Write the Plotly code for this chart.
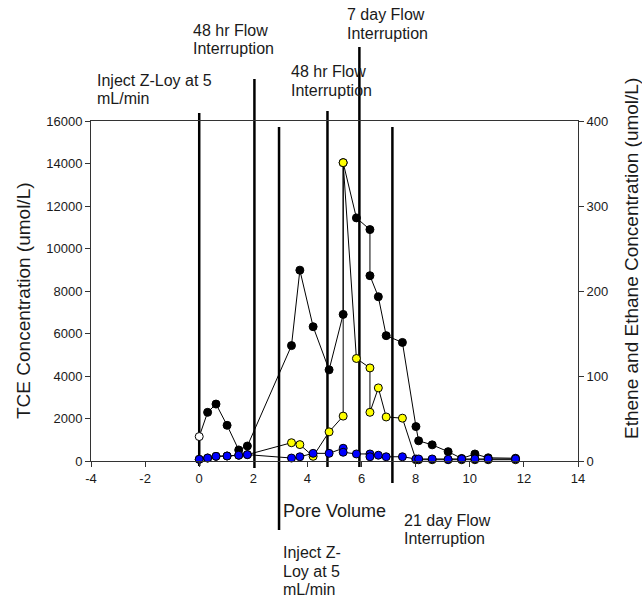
import plotly.graph_objects as go

# ---------------- data ----------------
# Pore volume sampling points (shared by all three series)
pore_volume = [0, 0.31, 0.62, 1.03, 1.46, 1.78, 3.41, 3.72, 4.21, 4.80, 5.32, 5.32, 5.81,
               6.31, 6.31, 6.62, 6.91, 7.51, 8.01, 8.11, 8.61, 9.20, 9.70, 10.19, 10.68, 11.69]

# TCE concentration (umol/L) - left axis
tce = [1150, 2290, 2680, 1680, 520, 705, 5430, 8980, 6320, 4290, 6900, 14040, 11440,
       10890, 8720, 7730, 5900, 5580, 1620, 950, 760, 440, 120, 330, 150, 130]

# Ethene concentration (umol/L) - right axis
ethene = [2, 3.5, 5.5, 5.9, 6.8, 7.5, 21.5, 19.3, 5.5, 34.3, 52.8, 351, 120.6,
          109.5, 57.3, 86, 51.8, 50.4, 1.5, 1.5, 1.5, 1.5, 1.5, 1.5, 1.5, 1.5]

# Ethane concentration (umol/L) - right axis
ethane = [2, 3.5, 5.5, 5.9, 6.8, 7.5, 3.5, 5, 9, 9, 15, 10.3, 8.3,
          8.3, 5, 6.8, 5, 5, 2.4, 2.4, 2.4, 2, 2.4, 2.4, 2.4, 2.4]

# Event marker lines (pore volume where each event occurred)
event_pv = [0, 2.04, 2.95, 4.74, 5.92, 7.14]

x_ticks = [-4, -2, 0, 2, 4, 6, 8, 10, 12, 14]
x_tick_labels = ["-4", "-2", "0", "2", "4", "6", "8", "10", "12", "14"]
y_left_ticks = [0, 2000, 4000, 6000, 8000, 10000, 12000, 14000, 16000]
y_left_labels = ["0", "2000", "4000", "6000", "8000", "10000", "12000", "14000", "16000"]
y_right_ticks = [0, 100, 200, 300, 400]
y_right_labels = ["0", "100", "200", "300", "400"]

# ---------------- layout constants ----------------
W, H = 642, 602
ML, MR, MT, MB = 91, 64, 121, 141
PW = W - ML - MR
PH = H - MT - MB


def px(xp):
    return (xp - ML) / PW


def py(yp):
    return (H - MB - yp) / PH


FONT = "Arial, Liberation Sans, sans-serif"
TXT = "#1a1a1a"

# extents of event lines (pixel rows, top / bottom)
event_top = [113, 79, 127, 111, 47, 127]
event_bot = [466, 468, 530, 467, 467, 483]

fig = go.Figure()

tce_fill = ["white"] + ["black"] * (len(tce) - 1)

fig.add_trace(go.Scatter(
    x=pore_volume, y=tce, mode="lines+markers", yaxis="y",
    line=dict(color="black", width=1),
    marker=dict(size=8, color=tce_fill, line=dict(color="black", width=1)),
    cliponaxis=False, name="TCE"))

fig.add_trace(go.Scatter(
    x=pore_volume, y=ethene, mode="lines+markers", yaxis="y2",
    line=dict(color="black", width=1),
    marker=dict(size=8, color="#FFFF00", line=dict(color="black", width=1)),
    cliponaxis=False, name="Ethene"))

fig.add_trace(go.Scatter(
    x=pore_volume, y=ethane, mode="lines+markers", yaxis="y2",
    line=dict(color="black", width=1),
    marker=dict(size=8, color="#0000FF", line=dict(color="black", width=1)),
    cliponaxis=False, name="Ethane"))

shapes = []
for pv, t, b in zip(event_pv, event_top, event_bot):
    shapes.append(dict(type="line", xref="x", yref="paper", x0=pv, x1=pv,
                       y0=py(b), y1=py(t), line=dict(color="black", width=2.5),
                       layer="below"))

annots = []


def add_text(txt, xl, yc, size=16):
    annots.append(dict(text=txt, xref="paper", yref="paper", x=px(xl), y=py(yc),
                       xanchor="left", yanchor="middle", showarrow=False,
                       font=dict(family=FONT, size=size, color=TXT)))


add_text("Inject Z-Loy at 5", 95, 80)
add_text("mL/min", 95, 98)
add_text("48 hr Flow", 191, 30)
add_text("Interruption", 191, 48)
add_text("48 hr Flow", 289, 71)
add_text("Interruption", 289, 90)
add_text("7 day Flow", 345, 14)
add_text("Interruption", 345, 33)
add_text("Pore Volume", 281, 511, size=18)
add_text("21 day Flow", 402, 520)
add_text("Interruption", 402, 538)
add_text("Inject Z-", 281, 552)
add_text("Loy at 5", 281, 571)
add_text("mL/min", 281, 589)

annots.append(dict(text="TCE Concentration (umol/L)", xref="paper", yref="paper",
                   x=px(23), y=py(301), xanchor="center", yanchor="middle",
                   textangle=-90, showarrow=False,
                   font=dict(family=FONT, size=19, color=TXT)))
annots.append(dict(text="Ethene and Ethane Concentration (umol/L)", xref="paper", yref="paper",
                   x=px(631), y=py(259), xanchor="center", yanchor="middle",
                   textangle=-90, showarrow=False,
                   font=dict(family=FONT, size=19, color=TXT)))

axis_common = dict(showgrid=False, zeroline=False, showline=True, linecolor="#333",
                   linewidth=1, ticks="outside", ticklen=5, tickcolor="#333",
                   tickfont=dict(family=FONT, size=13, color=TXT))

fig.update_layout(
    width=W, height=H,
    margin=dict(l=ML, r=MR, t=MT, b=MB),
    paper_bgcolor="white", plot_bgcolor="white",
    showlegend=False,
    xaxis=dict(range=[-4, 14], tickmode="array", tickvals=x_ticks, ticktext=x_tick_labels,
               mirror=True, **axis_common),
    yaxis=dict(range=[0, 16000], tickmode="array", tickvals=y_left_ticks,
               ticktext=y_left_labels, **axis_common),
    yaxis2=dict(range=[0, 400], tickmode="array", tickvals=y_right_ticks,
                ticktext=y_right_labels, overlaying="y", side="right", **axis_common),
    shapes=shapes,
    annotations=annots,
)

fig.write_html("out.html")
